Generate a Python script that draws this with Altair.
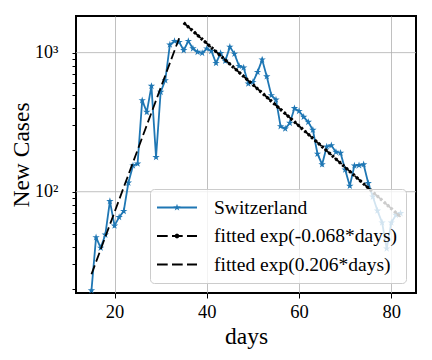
import altair as alt
import pandas as pd

# ---- data ----
days = list(range(15, 83))
cases = [19.5, 47, 39.5, 49, 85.5, 57, 65.6, 72.5, 116, 154,
         159, 454, 374, 575, 177, 521, 632, 1140, 1210, 1190,
         1040, 1210, 1070, 1010, 993, 1069, 1027, 841, 990, 871,
         1100, 980, 800, 780, 598, 614, 724, 891, 674, 493,
         459, 295, 284, 312, 398, 380, 345, 317, 278, 187,
         157, 211, 215, 193, 190, 144, 110, 154, 155, 157,
         115, 92, 73, 60, 39, 60, 68, 70]

series_names = ["Switzerland", "fitted exp(-0.068*days)", "fitted exp(0.206*days)"]
series_colors = ["#1f77b4", "black", "black"]

decay_days = [35, 82]
decay_values = [1640, 66]
growth_days = [15, 34]
growth_values = [25.5, 1270]

x_ticks = [20, 40, 60, 80]
y_ticks = [20, 30, 40, 50, 60, 70, 80, 90, 100, 200, 300, 400, 500, 600, 700, 800, 900, 1000]
y_major = [100, 1000]

FONT = "Liberation Serif"

data_df = pd.DataFrame({"day": days, "value": cases})
decay_df = pd.DataFrame({"day": decay_days, "value": decay_values})
growth_df = pd.DataFrame({"day": growth_days, "value": growth_values})
grid_df = pd.DataFrame({"value": y_major})
legend_df = pd.DataFrame({"day": [50, 50, 50], "value": [100, 100, 100], "series": series_names})

xscale = alt.Scale(domain=[11.65, 85.35], nice=False, zero=False)
yscale = alt.Scale(type="log", domain=[18.7, 1834], nice=False)

x_main = alt.X("day:Q", scale=xscale, title="days",
               axis=alt.Axis(values=x_ticks, grid=True, tickSize=5, labelPadding=4,
                             titleY=50, titleBaseline="alphabetic"))
y_main = alt.Y("value:Q", scale=yscale, title="New Cases",
               axis=alt.Axis(values=y_ticks, grid=False,
                             labelExpr="datum.value == 100 ? '10²' : datum.value == 1000 ? '10³' : ''",
                             tickSize=4, labelPadding=14, labelFontSize=18,
                             titleX=-48, titleBaseline="alphabetic"))
x_s = alt.X("day:Q", scale=xscale)
y_s = alt.Y("value:Q", scale=yscale)

star_path = ("M0,-1L0.2245,-0.309L0.9511,-0.309L0.3633,0.118L0.5878,0.809"
             "L0,0.382L-0.5878,0.809L-0.3633,0.118L-0.9511,-0.309L-0.2245,-0.309Z")

DASH = [9.5, 4]
ygrid = alt.Chart(grid_df).mark_rule(color="#b0b0b0", strokeWidth=0.8).encode(y=y_s)
line = alt.Chart(data_df).mark_line(color="#1f77b4", strokeWidth=1.8).encode(x=x_main, y=y_main)
pts = alt.Chart(data_df).mark_point(shape=star_path, filled=True, size=60, color="#1f77b4",
                                    opacity=1).encode(x=x_s, y=y_s)

growth = alt.Chart(growth_df).mark_line(color="black", strokeWidth=1.8, strokeDash=DASH).encode(x=x_s, y=y_s)
decay = alt.Chart(decay_df).mark_line(color="black", strokeWidth=1.8, strokeDash=DASH).encode(x=x_s, y=y_s)
decay_dots = alt.Chart(decay_df).mark_line(color="black", strokeWidth=3.2, strokeDash=[2.4, 2.23]).encode(x=x_s, y=y_s)

# legend symbols (line + marker) as filled paths; 1 unit = 10 px, symbols span -2..2
h = 0.09
bar_full = f"M-2,{-h}L2,{-h}L2,{h}L-2,{h}Z"
dash_segs = [(-2, -0.93), (-0.5, 0.57), (1.0, 2.0)]
dash_path = "".join(f"M{a},{-h}L{b},{-h}L{b},{h}L{a},{h}Z" for a, b in dash_segs)
star = ("M0,-0.38L0.0853,-0.1174L0.3614,-0.1174L0.1381,0.0448L0.2234,0.3074"
        "L0,0.1452L-0.2234,0.3074L-0.1381,0.0448L-0.3614,-0.1174L-0.0853,-0.1174Z")
dot = "M0.24,0L0.17,0.17L0,0.24L-0.17,0.17L-0.24,0L-0.17,-0.17L0,-0.24L0.17,-0.17Z"
shape_paths = [bar_full + star, dash_path + dot, dash_path]

leg = alt.Legend(title=None, orient="none", legendX=74, legendY=173)
legend_layer = alt.Chart(legend_df).transform_filter("datum.value < 0").mark_point(
    filled=True, opacity=1
).encode(
    x=x_s, y=y_s,
    color=alt.Color("series:N", scale=alt.Scale(domain=series_names, range=series_colors), legend=leg),
    shape=alt.Shape("series:N", scale=alt.Scale(domain=series_names, range=shape_paths), legend=leg),
)

chart = alt.layer(ygrid, line, pts, growth, decay, decay_dots, legend_layer).properties(
    width=340, height=277,
    autosize=alt.AutoSizeParams(type="none"),
    padding={"left": 68, "top": 8, "right": 8, "bottom": 60},
).configure_view(
    stroke="black", strokeWidth=2
).configure_axis(
    labelFont=FONT, labelFontSize=18.5, labelColor="black",
    titleFont=FONT, titleFontSize=23.5, titleFontWeight="normal", titleColor="black",
    tickColor="black", tickWidth=1, gridColor="#b0b0b0", gridWidth=0.8, domain=False
).configure_legend(
    fillColor="rgba(255,255,255,0.8)", strokeColor="#cccccc", cornerRadius=4, padding=8.5,
    symbolSize=400, symbolStrokeWidth=0, symbolOpacity=1, symbolOffset=8.5,
    labelFont=FONT, labelFontSize=19.5, labelColor="black", labelOffset=27, rowPadding=8.5,
    labelLimit=400,
)

chart.save("out.html", embed_options={"renderer": "svg", "actions": False})
